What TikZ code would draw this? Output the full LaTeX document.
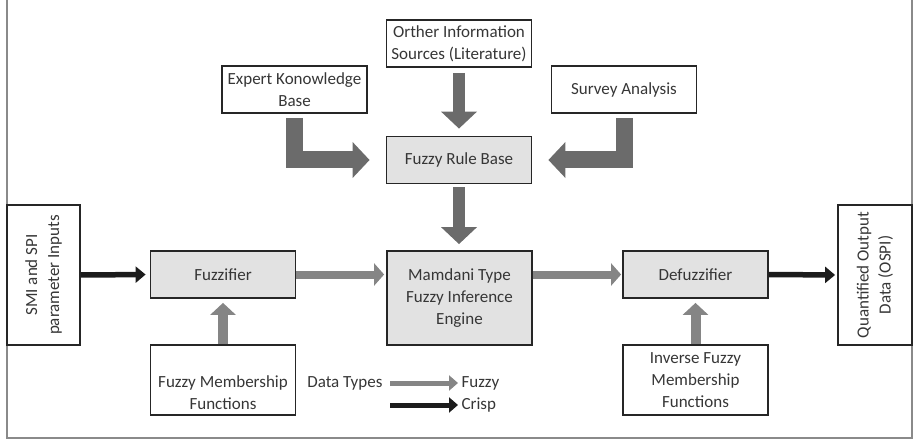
\documentclass[tikz,border=0pt]{standalone}
\usepackage{fontspec}
\setmainfont{Carlito}
\usepackage{tikz}
\usetikzlibrary{arrows.meta, positioning}

\definecolor{boxline}{HTML}{262626}
\definecolor{blockfill}{HTML}{E2E2E2}
\definecolor{txtgray}{HTML}{363636}
\definecolor{framegray}{HTML}{8A8A8A}
\definecolor{bigfill}{HTML}{6B6B6B}
\definecolor{fuzzyfill}{HTML}{858585}
\definecolor{crispfill}{HTML}{1C1C1C}

\tikzset{
	box/.style = {draw=boxline, line width=1.8pt, minimum width=145pt, minimum height=47pt, align=center, inner sep=2pt},
	block/.style = {box, fill=blockfill},
	bigarrow/.style = {color=bigfill, line width=15pt, line join=miter, -{Triangle[width=35pt, length=17pt]}},
	fuzzyarrow/.style = {color=fuzzyfill, line width=8pt, -{Triangle[width=22pt, length=10pt]}},
	crisparrow/.style = {color=crispfill, line width=5.5pt, -{Triangle[width=16pt, length=10pt]}}
}

\begin{document}
\begin{tikzpicture}[x = 1pt, y = -1pt, every node/.append style = {font=\fontsize{17}{22}\selectfont, text=txtgray}]
			\useasboundingbox (0,0) rectangle (914,441);
			\draw[framegray, line width=2pt] (7,-2) -- (7,438) -- (912,438) -- (912,-2);

			% knowledge sources
			\node[box] (other) at (459,43.5) {Orther Information\\Sources (Literature)};
			\node[box] (expert) at (294.5,89.5) {Expert Konowledge\\Base};
			\node[box] (survey) at (624,89.5) {Survey Analysis};
			\node[block] (rules) at (459,160) {Fuzzy Rule Base};

			% main chain
			\node[box, rotate=90, minimum width=140pt, minimum height=73pt] (inputs) at (43.5,275) {SMI and SPI\\parameter Inputs};
			\node[block] (fuzz) at (223,274.5) {Fuzzifier};
			\node[block, minimum height=94pt] (engine) at (459.5,298) {Mamdani Type\\Fuzzy Inference\\Engine};
			\node[block] (defuzz) at (695.5,274.5) {Defuzzifier};
			\node[box, rotate=90, minimum width=140pt, minimum height=74pt] (output) at (875,275) {Quantified Output\\Data (OSPI)};

			\node[box, minimum height=70pt] (mf) at (223,380) {\strut\\Fuzzy Membership\\Functions};
			\node[box, minimum height=70pt] (imf) at (695.5,380) {Inverse Fuzzy\\Membership\\Functions};

			% legend
			\node[anchor=east] (types) at (386,383) {Data Types};
			\node[anchor=west] (fuzzy) at (458,383) {Fuzzy};
			\node[anchor=west] (crisp) at (458,405) {Crisp};

			% rule base inputs
			\draw[bigarrow, line width=17pt, shorten <=4pt, shorten >=16pt] (expert.south) |- (rules.west);
			\draw[bigarrow, line width=17pt, shorten <=4pt, shorten >=16pt] (survey.south) |- (rules.east);
			\path[bigarrow, line width=12pt]
				(other) edge[shorten <=5pt, shorten >=7pt] (rules)
				(rules.south) edge[shorten <=3pt, shorten >=6pt] (rules.south |- engine.north);

			% fuzzy data
			\path[fuzzyarrow]
				(fuzz.east) edge[shorten >=2pt] (engine.west |- fuzz.east)
				(engine.east |- defuzz.west) edge[shorten >=1pt] (defuzz.west);
			\path[fuzzyarrow, line width=10pt, -{Triangle[width=25pt, length=12pt]}]
				(mf) edge[shorten >=4pt] (fuzz)
				(imf) edge[shorten >=4pt] (defuzz);

			% crisp data
			\path[crisparrow]
				(inputs.south) edge[shorten >=4pt] (fuzz.west)
				(defuzz.east) edge[shorten >=2pt] (output.north);

			\draw[fuzzyarrow, line width=5pt, -{Triangle[width=15pt, length=9pt]}, shorten <=4pt] (types.east) -- (fuzzy.west);
			\draw[crisparrow, line width=5pt, -{Triangle[width=15pt, length=9pt]}, shorten <=4pt] (types.east |- crisp.west) -- (crisp.west);
		\end{tikzpicture}
\end{document}
